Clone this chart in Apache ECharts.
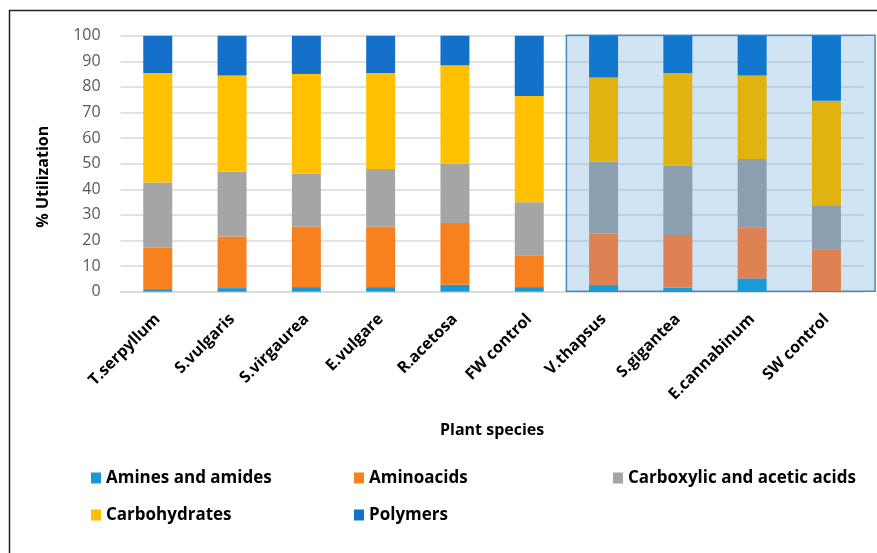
<!DOCTYPE html>
<html>
<head>
<meta charset="utf-8">
<script src="https://cdn.jsdelivr.net/npm/echarts@6/dist/echarts.min.js"></script>
<style>
html,body{margin:0;padding:0;background:#fff;}
#c{width:877px;height:553px;}
</style>
</head>
<body>
<div id="c"></div>
<script>
const categories = ['T.serpyllum','S.vulgaris','S.virgaurea','E.vulgare','R.acetosa','FW control','V.thapsus','S.gigantea','E.cannabinum','SW control'];
const seriesNames = ['Amines and amides','Aminoacids','Carboxylic and acetic acids','Carbohydrates','Polymers'];
const amines = [1.0, 1.4, 1.8, 1.8, 2.7, 1.8, 2.6, 1.6, 5.2, 0.3];
const aminoacids = [16.2, 20.2, 23.7, 23.7, 24.1, 12.4, 20.1, 20.5, 20.0, 16.3];
const carboxylic = [25.5, 25.4, 20.7, 22.4, 23.2, 20.7, 28.1, 27.1, 26.6, 17.2];
const carbohydrates = [42.7, 37.5, 38.8, 37.5, 38.4, 41.5, 32.9, 36.2, 32.7, 40.8];
const polymers = [14.6, 15.5, 15.0, 14.6, 11.6, 23.6, 16.3, 14.6, 15.5, 25.4];
const yTicks = [0,10,20,30,40,50,60,70,80,90,100];

const values = [amines, aminoacids, carboxylic, carbohydrates, polymers];
const baseColors = ['#1A98D6','#F8801F','#A5A5A5','#FFC000','#1470C8'];
const boxColors = ['#1A9AD6','#DF8253','#8C9FAE','#E0B310','#1177CC'];
const highlightStart = 6;
const FONT = 'Open Sans';

const series = seriesNames.map((name, s) => ({
  name: name,
  type: 'bar',
  stack: 'total',
  barWidth: '39%',
  itemStyle: {color: baseColors[s]},
  emphasis: {disabled: true},
  data: values[s].map((v, i) => ({
    value: v,
    itemStyle: {color: i >= highlightStart ? boxColors[s] : baseColors[s]}
  }))
}));

const legendPos = [
  {left: 91, top: 468}, {left: 354, top: 468}, {left: 613, top: 468},
  {left: 91, top: 505}, {left: 354, top: 505}
];
const legends = seriesNames.map((n, i) => ({
  data: [n],
  left: legendPos[i].left,
  top: legendPos[i].top,
  padding: 0,
  itemWidth: 10,
  itemHeight: 11,
  itemGap: 6,
  icon: 'rect',
  selectedMode: false,
  textStyle: {fontFamily: FONT, fontWeight: 'bold', fontSize: 17, color: '#000', lineHeight: 20}
}));

const chart = echarts.init(document.getElementById('c'), null, {renderer: 'canvas'});
const option = {
  animation: false,
  backgroundColor: '#fff',
  grid: {left: 120.6, right: 13.4, top: 35.7, bottom: 261.3, containLabel: false},
  legend: legends,
  xAxis: {
    type: 'category',
    data: categories,
    name: 'Plant species',
    nameLocation: 'middle',
    nameGap: 131,
    nameTextStyle: {fontFamily: FONT, fontWeight: 'bold', fontSize: 16, color: '#000'},
    axisTick: {show: false},
    axisLine: {show: true, lineStyle: {color: '#D9D9D9', width: 1.5}},
    axisLabel: {interval: 0, rotate: 45, margin: 25, fontFamily: FONT, fontWeight: 'bold', fontSize: 16, color: '#000'}
  },
  yAxis: {
    type: 'value',
    min: yTicks[0],
    max: yTicks[yTicks.length - 1],
    interval: 10,
    axisLine: {show: false},
    axisTick: {show: false},
    splitLine: {lineStyle: {color: '#D9D9D9', width: 1.5}},
    axisLabel: {margin: 20, fontFamily: FONT, fontSize: 16, color: '#595959'}
  },
  series: series
};
chart.setOption(option);

const xa = chart.convertToPixel({xAxisIndex: 0}, categories[highlightStart]);
const xb = chart.convertToPixel({xAxisIndex: 0}, categories[highlightStart - 1]);
const band = xa - xb;
const boxLeft = xa - band / 2;
const nBox = categories.length - highlightStart;
const boxRight = boxLeft + nBox * band + band * 0.155;
const yTop = chart.convertToPixel({yAxisIndex: 0}, yTicks[yTicks.length - 1]);
const yBot = chart.convertToPixel({yAxisIndex: 0}, yTicks[0]);
const gridMid = (yTop + yBot) / 2;

chart.setOption({
  graphic: [
    {
      type: 'rect', z: 1, silent: true,
      shape: {x: boxLeft, y: yTop - 0.5, width: boxRight - boxLeft, height: yBot - yTop},
      style: {fill: 'rgba(100,165,215,0.30)', stroke: '#4A8BBB', lineWidth: 1.5}
    },
    {
      type: 'text', z: 5, silent: true,
      x: 43, y: gridMid + 13, rotation: Math.PI / 2,
      style: {text: '% Utilization', fontFamily: FONT, fontWeight: 'bold', fontSize: 16, fill: '#000', align: 'center', verticalAlign: 'middle'}
    },
    {
      type: 'polyline', z: 5, silent: true,
      shape: {points: [[9.5, 553], [9.5, 10.5], [877, 10.5]]},
      style: {stroke: '#222', lineWidth: 1.5, fill: null}
    }
  ]
});
</script>
</body>
</html>
